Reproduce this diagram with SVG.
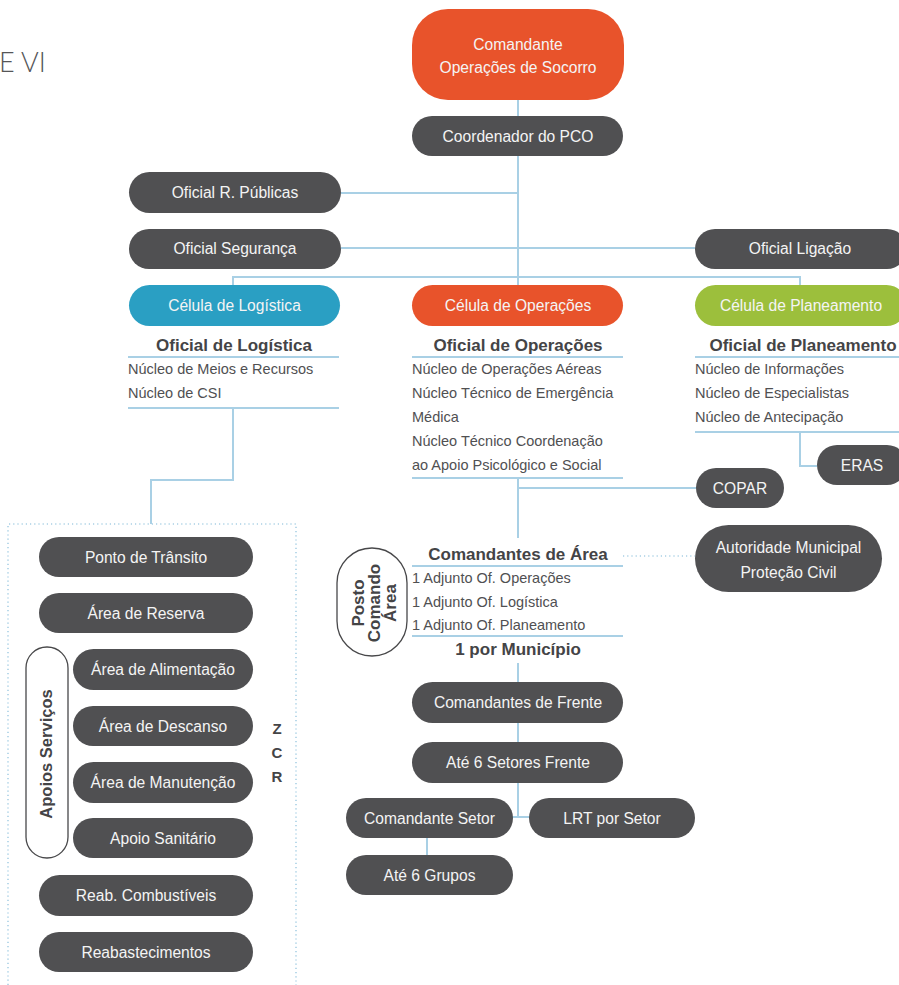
<svg xmlns="http://www.w3.org/2000/svg" width="899" height="985" viewBox="0 0 899 985">
<style>
.n{fill:#505052}
.o{fill:#e8532b}
.b{fill:#2a9fc3}
.g{fill:#9cbf3c}
.pill{fill:#fff;stroke:#48484a;stroke-width:1.3}
text{font-family:"Liberation Sans",Arial,sans-serif}
.t{font-size:15.6px;fill:#f4f4f4;text-anchor:middle}
.h{font-size:17px;font-weight:bold;fill:#444446;text-anchor:middle}
.p{font-size:14.5px;fill:#505052}
.c{fill:none;stroke:#a9d0e5;stroke-width:2}
.d{fill:none;stroke:#a9d0e5;stroke-width:1.6;stroke-dasharray:1.2 3}
</style>
<text x="-1" y="72" style="font-family:Lato,'Liberation Sans',sans-serif;font-weight:300;font-size:27px;fill:#555557">E VI</text>

<g id="connectors">
<path class="c" d="M518,100V116M518,156V285M341,193H518M341,248H695M233,285V277H800V285"/>
<path class="c" d="M128,357H339M128,408H339M233,408V480H151V524"/>
<path class="c" d="M412,357H623M412,478H623M518,478V538M518,488H696"/>
<path class="c" d="M695,357H899M695,432H899M800,432V466H817"/>
<path class="c" d="M412,566H623M412,636H623"/>
<path class="d" d="M623,556H695"/>
<path class="c" d="M518,663V682M518,723V742M518,783V817M512,817H530M427,838V855"/>
<path class="d" d="M8,985V524H296V985"/>
</g>

<g id="comandante-os"><rect class="o" x="412" y="9" width="212" height="91" rx="36"/><text class="t" x="518" y="50">Comandante</text><text class="t" x="518" y="73">Operações de Socorro</text></g>
<g id="coordenador-pco"><rect class="n" x="412" y="116" width="211" height="40" rx="20"/><text class="t" x="518" y="142">Coordenador do PCO</text></g>
<g id="oficial-rp"><rect class="n" x="129" y="172" width="212" height="41" rx="20.5"/><text class="t" x="235" y="198">Oficial R. Públicas</text></g>
<g id="oficial-seg"><rect class="n" x="129" y="229" width="212" height="40" rx="20"/><text class="t" x="235" y="254">Oficial Segurança</text></g>
<g id="oficial-lig"><rect class="n" x="695" y="229" width="212" height="40" rx="20"/><text class="t" x="800" y="254">Oficial Ligação</text></g>

<g id="celula-logistica"><rect class="b" x="129" y="285" width="211" height="41" rx="20.5"/><text class="t" x="234.5" y="311">Célula de Logística</text>
<text class="h" x="234" y="351">Oficial de Logística</text>
<text class="p" x="128" y="374">Núcleo de Meios e Recursos</text>
<text class="p" x="128" y="398">Núcleo de CSI</text></g>

<g id="celula-operacoes"><rect class="o" x="412" y="285" width="211" height="41" rx="20.5"/><text class="t" x="518" y="311">Célula de Operações</text>
<text class="h" x="518" y="351">Oficial de Operações</text>
<text class="p" x="412" y="374">Núcleo de Operações Aéreas</text>
<text class="p" x="412" y="398">Núcleo Técnico de Emergência</text>
<text class="p" x="412" y="422">Médica</text>
<text class="p" x="412" y="446">Núcleo Técnico Coordenação</text>
<text class="p" x="412" y="470">ao Apoio Psicológico e Social</text></g>

<g id="celula-planeamento"><rect class="g" x="695" y="285" width="212" height="41" rx="20.5"/><text class="t" x="801" y="311">Célula de Planeamento</text>
<text class="h" x="803" y="351">Oficial de Planeamento</text>
<text class="p" x="695" y="374">Núcleo de Informações</text>
<text class="p" x="695" y="398">Núcleo de Especialistas</text>
<text class="p" x="695" y="422">Núcleo de Antecipação</text></g>

<g id="eras"><rect class="n" x="817" y="445" width="90" height="40" rx="20"/><text class="t" x="862" y="471">ERAS</text></g>
<g id="copar"><rect class="n" x="696" y="468" width="88" height="40" rx="20"/><text class="t" x="740" y="494">COPAR</text></g>
<g id="autoridade"><rect class="n" x="695" y="525" width="187" height="67" rx="33.5"/><text class="t" x="788.5" y="553">Autoridade Municipal</text><text class="t" x="788.5" y="578">Proteção Civil</text></g>

<g id="comandantes-area">
<text class="h" x="518" y="560">Comandantes de Área</text>
<text class="p" x="412" y="583">1 Adjunto Of. Operações</text>
<text class="p" x="412" y="607">1 Adjunto Of. Logística</text>
<text class="p" x="412" y="630">1 Adjunto Of. Planeamento</text>
<text class="h" x="518" y="655">1 por Município</text></g>

<g id="posto-comando-area"><rect class="pill" x="337" y="548" width="70" height="108" rx="35"/>
<text class="h" transform="translate(364,603) rotate(-90)">Posto</text>
<text class="h" transform="translate(380,603) rotate(-90)">Comando</text>
<text class="h" transform="translate(396,603) rotate(-90)">Área</text></g>

<g id="cmd-frente"><rect class="n" x="412" y="682" width="211" height="41" rx="20.5"/><text class="t" x="518" y="708">Comandantes de Frente</text></g>
<g id="setores-frente"><rect class="n" x="412" y="742" width="211" height="41" rx="20.5"/><text class="t" x="518" y="768">Até 6 Setores Frente</text></g>
<g id="cmd-setor"><rect class="n" x="346" y="798" width="167" height="40" rx="20"/><text class="t" x="429.5" y="824">Comandante Setor</text></g>
<g id="lrt-setor"><rect class="n" x="529" y="798" width="166" height="40" rx="20"/><text class="t" x="612" y="824">LRT por Setor</text></g>
<g id="grupos"><rect class="n" x="346" y="855" width="167" height="40" rx="20"/><text class="t" x="429.5" y="881">Até 6 Grupos</text></g>

<g id="zcr">
<text class="h" x="277" y="734" style="font-size:15px">Z</text>
<text class="h" x="277" y="758" style="font-size:15px">C</text>
<text class="h" x="277" y="782" style="font-size:15px">R</text></g>

<g id="apoios-servicos"><rect class="pill" x="26" y="647" width="42" height="211" rx="21"/>
<text class="h" transform="translate(52,754) rotate(-90)" style="font-size:16.5px">Apoios Serviços</text></g>

<g id="ponto-transito"><rect class="n" x="39" y="537" width="214" height="40" rx="20"/><text class="t" x="146" y="563">Ponto de Trânsito</text></g>
<g id="area-reserva"><rect class="n" x="39" y="593" width="214" height="40" rx="20"/><text class="t" x="146" y="619">Área de Reserva</text></g>
<g id="area-alimentacao"><rect class="n" x="73" y="649" width="180" height="41" rx="20.5"/><text class="t" x="163" y="675">Área de Alimentação</text></g>
<g id="area-descanso"><rect class="n" x="73" y="706" width="180" height="40" rx="20"/><text class="t" x="163" y="732">Área de Descanso</text></g>
<g id="area-manutencao"><rect class="n" x="73" y="762" width="180" height="41" rx="20.5"/><text class="t" x="163" y="788">Área de Manutenção</text></g>
<g id="apoio-sanitario"><rect class="n" x="73" y="818" width="180" height="40" rx="20"/><text class="t" x="163" y="844">Apoio Sanitário</text></g>
<g id="reab-combustiveis"><rect class="n" x="39" y="875" width="214" height="41" rx="20.5"/><text class="t" x="146" y="901">Reab. Combustíveis</text></g>
<g id="reabastecimentos"><rect class="n" x="39" y="932" width="214" height="40" rx="20"/><text class="t" x="146" y="958">Reabastecimentos</text></g>
</svg>
